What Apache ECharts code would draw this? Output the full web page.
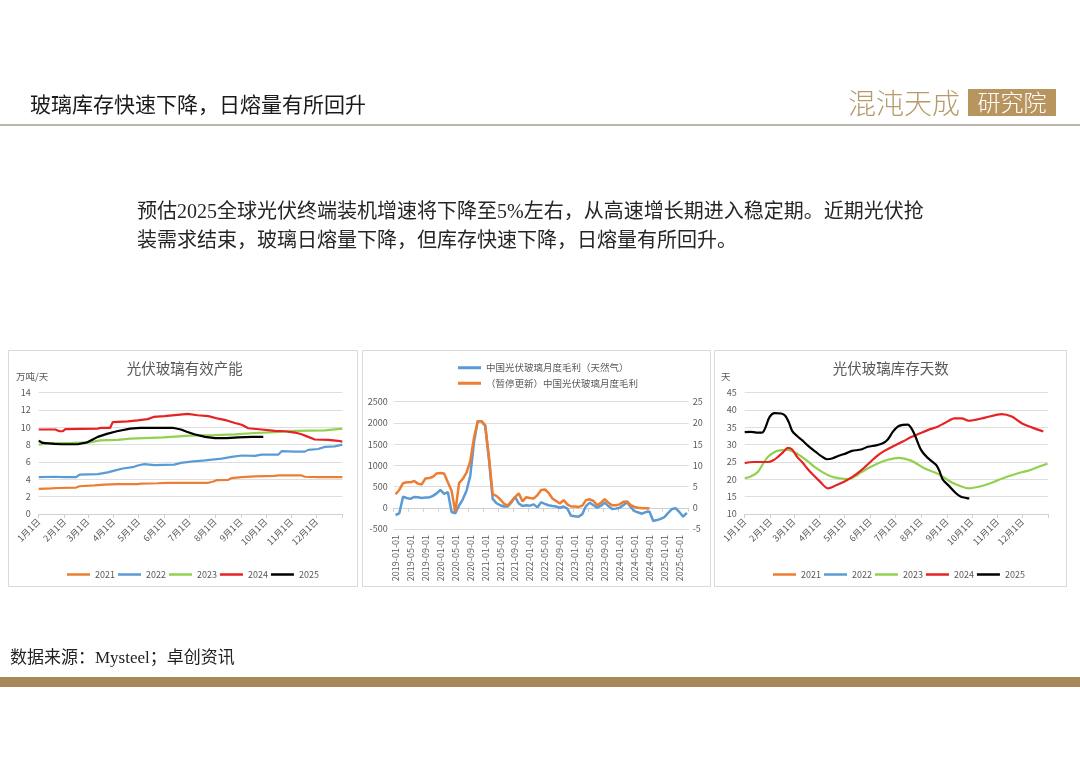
<!DOCTYPE html>
<html><head><meta charset="utf-8">
<script src="https://cdn.jsdelivr.net/npm/echarts@6/dist/echarts.min.js"></script>
<style>html,body{margin:0;padding:0;background:#fff}#c{width:1080px;height:764px}</style>
</head><body><div id="c"></div>
<script>
// ---- tick labels / categories ----
const monthDays = [0,31,59,90,120,151,181,212,243,273,304,334];
const monthLabels = ['1月1日','2月1日','3月1日','4月1日','5月1日','6月1日','7月1日','8月1日','9月1日','10月1日','11月1日','12月1日'];
const yearNames = ['2021','2022','2023','2024','2025'];
const marginNames = ['中国光伏玻璃月度毛利（天然气）','（暂停更新）中国光伏玻璃月度毛利'];
const marginMonths = [];
for (let y = 2019; y <= 2025; y++) for (let m = 1; m <= 12; m++) {
  if (y === 2025 && m > 7) break;
  marginMonths.push(y + '-' + String(m).padStart(2,'0') + '-01');
}

// ---- chart 1: 光伏玻璃有效产能 (万吨/天), [day of year, value] ----
const cap2021 = [[0,2.9],[15,2.95],[23,3.0],[45,3.05],[49,3.2],[67,3.3],[79,3.4],[95,3.45],[119,3.45],[123,3.5],[143,3.55],[155,3.6],[204,3.6],[210,3.75],[214,3.9],[228,3.95],[232,4.15],[244,4.25],[260,4.35],[284,4.4],[288,4.45],[316,4.45],[320,4.3],[336,4.25],[365,4.25]];
const cap2022 = [[0,4.25],[19,4.3],[31,4.25],[45,4.25],[49,4.55],[71,4.6],[83,4.8],[91,5.0],[101,5.25],[113,5.4],[119,5.6],[127,5.75],[139,5.65],[163,5.7],[171,5.9],[183,6.05],[200,6.2],[220,6.4],[232,6.6],[244,6.75],[260,6.7],[268,6.85],[288,6.85],[292,7.25],[308,7.2],[320,7.2],[324,7.4],[336,7.5],[344,7.75],[356,7.8],[365,8.0]];
const cap2023 = [[0,8.0],[10,8.15],[40,8.2],[61,8.27],[74,8.5],[95,8.55],[110,8.7],[150,8.85],[182,9.05],[212,9.1],[236,9.2],[260,9.35],[284,9.45],[308,9.6],[344,9.65],[365,9.85]];
const cap2024 = [[0,9.75],[20,9.75],[25,9.55],[29,9.55],[32,9.8],[71,9.85],[75,9.95],[86,9.95],[89,10.6],[107,10.7],[119,10.8],[131,10.95],[138,11.2],[151,11.3],[167,11.45],[179,11.55],[191,11.4],[204,11.3],[216,11.0],[226,10.8],[236,10.5],[244,10.3],[252,9.9],[268,9.75],[284,9.6],[296,9.55],[308,9.4],[316,9.2],[324,8.9],[332,8.6],[348,8.55],[360,8.45],[365,8.35]];
const cap2025 = [[0,8.45],[5,8.2],[19,8.1],[27,8.05],[47,8.05],[55,8.2],[59,8.3],[65,8.6],[71,8.9],[82,9.25],[94,9.55],[110,9.85],[122,9.95],[161,9.95],[171,9.75],[178,9.5],[187,9.2],[200,8.9],[212,8.75],[226,8.75],[240,8.85],[256,8.9],[270,8.9]];

// ---- chart 2: 中国光伏玻璃月度毛利 ----
const marginGas = [-170,-130,260,230,210,255,250,230,240,245,280,340,420,330,370,-100,-130,50,200,400,750,1550,2040,2040,1930,1150,210,110,60,30,30,120,260,100,40,60,50,80,10,130,90,60,40,30,0,30,-20,-190,-200,-210,-150,40,120,60,0,50,120,40,-30,-20,0,60,130,10,-80,-110,-140,-100,-90,-310,-290,-260,-220,-120,-30,-10,-100,-210,-120];
const marginOld = [3.2,4.2,5.8,6.0,6.0,6.3,5.7,5.5,6.9,7.0,7.3,8.1,8.2,8.1,6.0,4.0,-1.0,5.8,6.8,8.3,11.0,16.5,20.4,20.4,19.5,12.0,3.2,2.8,2.0,1.0,0.5,1.5,2.5,3.4,1.5,2.5,2.3,2.2,3.0,4.2,4.3,3.5,2.2,1.6,1.0,1.8,0.8,0.3,0.3,0.2,0.5,1.8,2.0,1.6,0.6,1.2,2.0,1.2,0.6,0.6,0.8,1.4,1.5,0.6,0.2,0.0,-0.1,-0.1,-0.1];

// ---- chart 3: 光伏玻璃库存天数 (天), [day of year, value] ----
const inv2023 = [[0,20.3],[8,20.9],[16,22.2],[22,24.5],[28,26.5],[34,27.6],[40,28.3],[52,28.5],[60,27.8],[68,26.6],[76,25.2],[84,23.6],[94,22],[104,20.8],[114,20.3],[124,20.1],[132,20.8],[140,22],[150,23.4],[160,24.6],[170,25.5],[185,26.2],[200,25.4],[216,23.2],[233,21.5],[249,19.1],[260,18.0],[269,17.4],[280,17.8],[292,18.6],[300,19.3],[308,20.1],[316,20.8],[324,21.4],[334,22.1],[342,22.6],[352,23.5],[364,24.5]];
const inv2024 = [[0,24.7],[11,25],[28,25],[35,25.6],[40,26.5],[46,27.8],[52,29.1],[57,28.6],[63,26.5],[69,25],[75,23.2],[81,21.6],[90,19.5],[100,17.4],[110,18.3],[120,19.4],[130,20.8],[140,22.6],[150,24.8],[160,26.9],[168,28.2],[178,29.5],[190,30.9],[200,32.2],[210,33.2],[220,34.2],[232,35.2],[240,36.2],[246,37.0],[252,37.6],[261,37.6],[269,36.9],[289,37.8],[309,38.8],[321,38.1],[333,36.2],[345,35.0],[359,33.8]];
const inv2025 = [[0,33.6],[7,33.7],[14,33.5],[21,33.5],[25,35],[30,38],[36,39.1],[44,39],[49,38.3],[53,36.5],[57,34],[63,32.5],[69,31.3],[77,29.5],[85,28],[92,26.7],[99,25.8],[106,26.1],[113,26.8],[122,27.5],[129,28.2],[140,28.6],[148,29.4],[158,29.8],[166,30.4],[172,31.5],[178,33.7],[184,35.2],[190,35.7],[196,35.8],[201,34.5],[205,32.5],[212,28.5],[220,26.2],[230,24.2],[234,22.5],[238,20],[246,18],[254,16],[260,15],[267,14.6],[270,14.5]];

const COL = {'2021':'#ED7D31','2022':'#5B9BD5','2023':'#92D050','2024':'#E62222','2025':'#000000'};
const AX = '#595959', GRID = '#dedede';
const CJK = '"Noto Sans CJK SC", sans-serif';
const SERIF = '"Liberation Serif", "Noto Sans CJK SC", serif';

function dayAxis(gridIndex) {
  return {
    type:'value', gridIndex, min:0, max:365,
    splitLine:{show:false},
    axisLine:{show:true, lineStyle:{color:'#d0d0d0'}},
    axisTick:{show:true, length:4, lineStyle:{color:'#d0d0d0'}, customValues: monthDays.concat([365])},
    axisLabel:{customValues: monthDays, rotate:45, fontSize:9, color:AX, fontFamily:CJK, margin:6,
      formatter: v => monthLabels[monthDays.indexOf(v)] || ''}
  };
}
function valAxis(gridIndex, min, max, interval, extra) {
  return Object.assign({
    type:'value', gridIndex, min, max, interval,
    axisLine:{show:false}, axisTick:{show:false},
    splitLine:{show:true, lineStyle:{color:GRID}},
    axisLabel:{fontSize:9, color:AX, fontFamily:CJK, margin:8}
  }, extra || {});
}
function lineSeries(name, data, xi, yi, opts) {
  return Object.assign({
    name, type:'line', data, xAxisIndex:xi, yAxisIndex:yi,
    showSymbol:false, symbol:'none', color:COL[name],
    lineStyle:{width:2.2, color:COL[name]}, animation:false
  }, opts || {});
}

const legendBase = {icon:'rect', itemWidth:23, itemHeight:2.5, itemGap:3,
  textStyle:{fontSize:9, color:AX, fontFamily:CJK}, selectedMode:false};

const option = {
  animation:false,
  backgroundColor:'#fff',
  grid:[
    {left:38.7, top:392.7, width:303.6, height:121.3},
    {left:393.7, top:401.7, width:295, height:127.3},
    {left:744.7, top:392.7, width:303.6, height:121.3}
  ],
  xAxis:[
    dayAxis(0),
    {type:'category', gridIndex:1, data:marginMonths, boundaryGap:true,
     axisLine:{show:true, lineStyle:{color:'#d0d0d0'}},
     axisTick:{show:true, interval:3, length:4, lineStyle:{color:'#d0d0d0'}},
     axisLabel:{interval:3, rotate:90, fontSize:9, color:AX, fontFamily:CJK, margin:6},
     splitLine:{show:false}},
    dayAxis(2)
  ],
  yAxis:[
    valAxis(0, 0, 14, 2),
    valAxis(1, -500, 2500, 500, {axisLabel:{fontSize:9, color:AX, fontFamily:CJK, margin:6, formatter: v => String(v)}}),
    valAxis(1, -5, 25, 5, {position:'right', splitLine:{show:false}, axisLabel:{fontSize:9, color:AX, fontFamily:CJK, margin:4}}),
    valAxis(2, 10, 45, 5)
  ],
  legend:[
    Object.assign({}, legendBase, {data:yearNames, left:62, top:565}),
    Object.assign({}, legendBase, {data:marginNames, orient:'vertical', left:453, top:358, itemGap:6, itemHeight:3,
      textStyle:{fontSize:9.5, color:AX, fontFamily:CJK}}),
    Object.assign({}, legendBase, {data:yearNames, left:768, top:565})
  ],
  series:[
    lineSeries('2021', cap2021, 0, 0),
    lineSeries('2022', cap2022, 0, 0),
    lineSeries('2023', cap2023, 0, 0),
    lineSeries('2024', cap2024, 0, 0),
    lineSeries('2025', cap2025, 0, 0),
    {name:marginNames[0], type:'line', data:marginGas, xAxisIndex:1, yAxisIndex:1, showSymbol:false, symbol:'none',
     color:'#5B9BD5', lineStyle:{width:2.5, color:'#5B9BD5'}},
    {name:marginNames[1], type:'line', data:marginOld, xAxisIndex:1, yAxisIndex:2, showSymbol:false, symbol:'none',
     color:'#ED7D31', lineStyle:{width:2.5, color:'#ED7D31'}},
    lineSeries('2023', inv2023, 2, 3, {smooth:0.3}),
    lineSeries('2024', inv2024, 2, 3, {smooth:0.3}),
    lineSeries('2025', inv2025, 2, 3, {smooth:0.3})
  ],
  graphic:[
    // header
    {type:'text', style:{x:30, y:104, text:'玻璃库存快速下降，日熔量有所回升', fontSize:21, fontFamily:CJK, fill:'#1a1a1a', verticalAlign:'middle'}},
    {type:'text', style:{x:848, y:103, text:'混沌天成', fontSize:28, fontFamily:CJK, fontWeight:300, fill:'#b59a6c', verticalAlign:'middle'}},
    {type:'rect', shape:{x:968, y:89, width:88, height:27}, style:{fill:'#b8955f'}},
    {type:'text', style:{x:1012, y:102.5, text:'研究院', fontSize:23, fontFamily:CJK, fontWeight:300, fill:'#ffffff', align:'center', verticalAlign:'middle'}},
    {type:'rect', shape:{x:0, y:124, width:1080, height:2}, style:{fill:'#bab6ad'}},
    // paragraph
    {type:'text', style:{x:137, y:213, text:'预估2025全球光伏终端装机增速将下降至5%左右，从高速增长期进入稳定期。近期光伏抢', fontSize:20, fontFamily:SERIF, fill:'#262626', verticalAlign:'middle'}},
    {type:'text', style:{x:137, y:242, text:'装需求结束，玻璃日熔量下降，但库存快速下降，日熔量有所回升。', fontSize:20, fontFamily:SERIF, fill:'#262626', verticalAlign:'middle'}},
    // panels
    {type:'rect', shape:{x:8.5, y:350.5, width:349, height:236}, style:{fill:'none', stroke:'#d9d9d9', lineWidth:1}},
    {type:'rect', shape:{x:362.5, y:350.5, width:348, height:236}, style:{fill:'none', stroke:'#d9d9d9', lineWidth:1}},
    {type:'rect', shape:{x:714.5, y:350.5, width:352, height:236}, style:{fill:'none', stroke:'#d9d9d9', lineWidth:1}},
    {type:'text', style:{x:184.7, y:368, text:'光伏玻璃有效产能', fontSize:14.5, fontFamily:CJK, fill:AX, align:'center', verticalAlign:'middle'}},
    {type:'text', style:{x:16, y:376, text:'万吨/天', fontSize:9.5, fontFamily:CJK, fill:AX, verticalAlign:'middle'}},
    {type:'text', style:{x:890.7, y:368, text:'光伏玻璃库存天数', fontSize:14.5, fontFamily:CJK, fill:AX, align:'center', verticalAlign:'middle'}},
    {type:'text', style:{x:721, y:376, text:'天', fontSize:9.5, fontFamily:CJK, fill:AX, verticalAlign:'middle'}},
    // footer
    {type:'text', style:{x:10, y:659, text:'数据来源：Mysteel；卓创资讯', fontSize:17, fontFamily:SERIF, fill:'#222', verticalAlign:'middle'}},
    {type:'rect', shape:{x:0, y:677, width:1080, height:10}, style:{fill:'#a8875a'}}
  ]
};
const chart = echarts.init(document.getElementById('c'));
chart.setOption(option);
</script></body></html>
